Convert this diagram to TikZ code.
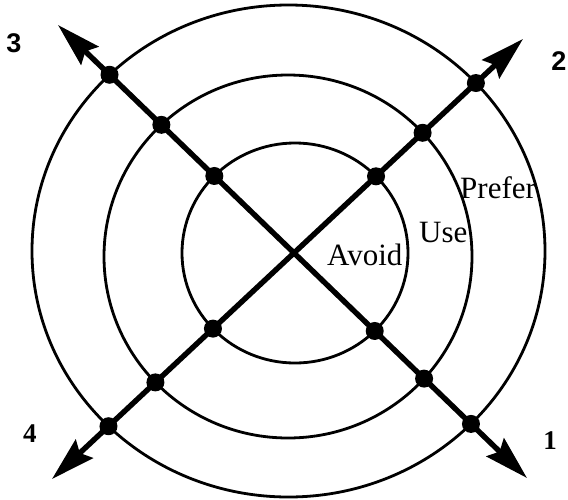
\documentclass[tikz,border=0pt]{standalone}
\usepackage{fontspec}
\setmainfont{Liberation Serif}
\newfontfamily\digsans{Liberation Sans}
\usetikzlibrary{arrows.meta,intersections}
\begin{document}
\begin{tikzpicture}[x=1pt,y=-1pt,
  ring/.style={line width=2.8pt},
  axisline/.style={line width=5.4pt,
    {Stealth[length=44pt,width=25pt,inset=6pt]}-{Stealth[length=44pt,width=25pt,inset=6pt]}},
  dot/.style={circle,fill,inner sep=0pt,minimum size=18pt},
  word/.style={font=\fontsize{31}{31}\selectfont, anchor=base west, inner sep=0pt},
  numsans/.style={font=\digsans\bfseries\fontsize{27}{27}\selectfont, inner sep=0pt},
  numserif/.style={font=\bfseries\fontsize{27}{27}\selectfont, inner sep=0pt}]
\useasboundingbox (0,0) rectangle (568,499);
% rings
\draw[ring, name path=outer] (288.5,251) ellipse [x radius=256.5pt, y radius=246pt];
\draw[ring, name path=middle] (288,256.5) ellipse [x radius=184pt, y radius=181.5pt];
\draw[ring, name path=inner] (295,253) ellipse [x radius=113pt, y radius=110pt];
% axis ends
\coordinate (t3) at (58,25);
\coordinate (t1) at (527,478);
\coordinate (t2) at (523,39);
\coordinate (t4) at (52,479);
\draw[axisline] (t3) -- (t1);
\draw[axisline] (t4) -- (t2);
\path[name path=axA] (t3) -- (t1);
\path[name path=axB] (t4) -- (t2);
% dots
\path[name intersections={of=axA and outer, name=AO}];
\path[name intersections={of=axA and middle, name=AM}];
\path[name intersections={of=axA and inner, name=AI}];
\path[name intersections={of=axB and outer, name=BO}];
\path[name intersections={of=axB and middle, name=BM}];
\path[name intersections={of=axB and inner, name=BI}];
\node[dot] (dao1) at (AO-1) {};
\node[dot] (dao2) at (AO-2) {};
\node[dot] (dam1) at (AM-1) {};
\node[dot] (dam2) at (AM-2) {};
\node[dot] (dai1) at (AI-1) {};
\node[dot] (dai2) at (AI-2) {};
\node[dot] (dbo1) at (BO-1) {};
\node[dot] (dbo2) at (BO-2) {};
\node[dot] (dbm1) at (BM-1) {};
\node[dot] (dbm2) at (BM-2) {};
\node[dot] (dbi1) at (BI-1) {};
\node[dot] (dbi2) at (BI-2) {};
% labels
\node[word] (prefer) at (460,198) {Prefer};
\node[word] (use) at (419,242) {Use};
\node[word] (avoid) at (327,265) {Avoid};
\node[numsans] (n3) at (14,43) {3};
\node[numsans] (n2) at (559,61) {2};
\node[numserif] (n4) at (30,434) {4};
\node[numserif] (n1) at (550,441) {1};
\end{tikzpicture}
\end{document}
